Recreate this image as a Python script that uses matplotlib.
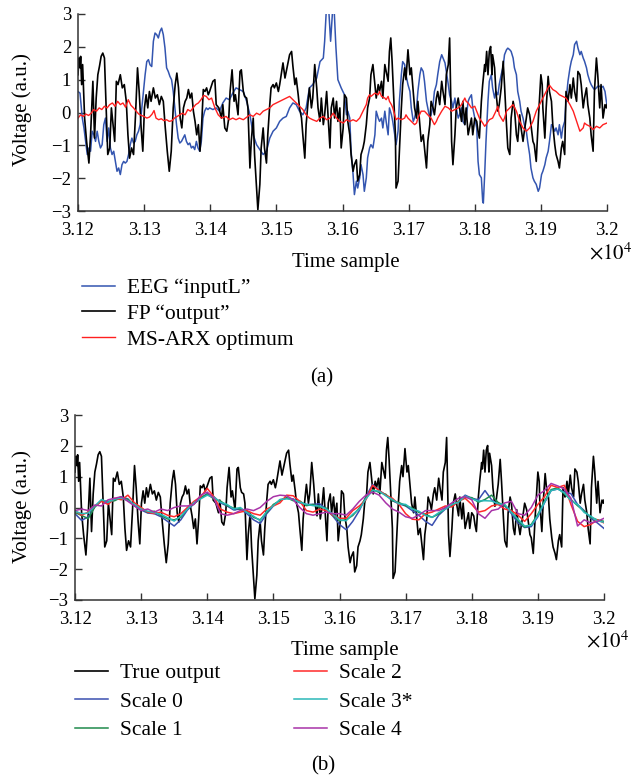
import numpy as np
import matplotlib
matplotlib.use("Agg")
import matplotlib.pyplot as plt
from matplotlib.ticker import FuncFormatter

plt.rcParams["font.family"] = "serif"
plt.rcParams["font.serif"] = ["Liberation Serif", "DejaVu Serif"]
plt.rcParams["mathtext.fontset"] = "stix"

T0 = 31200

# FP "output" / true output (sample offset from 31200, voltage)
fp_t = [0, 1.5, 3, 4, 5.5, 7, 10, 13, 16.5, 19, 22.5, 25, 27.5, 30, 32.5, 35, 37.5, 40, 42.5, 45,
        48, 50.5, 53, 55.5, 58, 60.5, 64, 67, 70, 73, 75.5, 78, 81, 84, 87, 90, 92.5, 95.5, 98, 100.5,
        103, 105.5, 108, 110.5, 114, 117, 120, 123, 126, 129, 132, 135, 138, 141, 144, 147, 149.5, 152,
        154.5, 157, 159.5, 162, 164.5, 167, 169.5, 172, 174.5, 177, 179.5, 182, 184.5, 187, 189.5, 192,
        194.5, 197, 199,
        204, 207, 209, 213, 217, 219, 222, 225, 228, 230, 233, 236, 238, 242, 245, 247, 250, 252, 255,
        257, 260, 262, 265, 267, 270, 272, 275, 277, 280, 282, 285, 287, 290, 292, 295, 297, 300, 303,
        305, 308, 310, 313, 315, 318, 320, 323, 325, 328, 330, 333, 335, 338, 340, 343, 345, 348, 350,
        353, 355, 358, 361, 363, 366, 368, 371, 373, 376, 378, 381, 383, 386, 388, 391, 393, 396, 398,
        401, 403,
        406, 408, 411, 413, 416, 418, 421, 423, 426, 428, 431, 433, 436, 438, 441, 443, 446, 449, 451,
        454, 456, 459, 461, 464, 466, 469, 471, 473, 475, 477, 480, 481, 484, 486, 489, 491, 494, 496,
        499, 502, 504, 507, 509, 512, 514, 517, 519, 522, 524, 527, 529, 532, 534, 537, 539, 542, 544,
        547, 550, 552, 555, 557, 560, 562, 565, 567, 570, 572, 575, 577, 580, 582, 585, 587, 590, 592,
        595, 597, 600, 603,
        605, 607, 610, 612, 615, 616, 618, 620, 622, 624, 626, 627, 630, 632, 635, 637, 640, 643, 645,
        648, 650, 653, 655, 658, 660, 663, 665, 668, 670, 673, 675, 678, 680, 683, 685, 688, 690, 693,
        696, 698, 700, 702, 703, 706, 708, 711, 713, 716, 718, 721, 723, 726, 728, 731, 733, 736, 738,
        741, 744, 746, 749, 751, 754, 756, 759, 761, 764, 766, 769, 771, 774, 776, 779, 781, 784, 786,
        789, 791, 794, 797, 799, 800]
fp_v = [1.15, 1.66, 1.36, 1.71, 0.85, 1.46, -0.17, -0.88, -1.54, -0.68, 0.95, -0.78, 0.44, 1.15, 1.41,
        1.71, 1.81, 1.66, 0.14, -1.28, -1.08, 0.14, -0.37, -0.88, 0.95, 0.85, 1.15, 0.75, 0.85, 0.34,
        -0.68, -1.39, -1.08, -1.28, -0.07, 1.36, 0.64, -0.47, -1.18, 0.14, 0.54, 0.14, 0.64, 0.34, 0.75,
        0.44, 0.54, 0.24, 0.49, 0.34, -0.47, -1.18, -1.79, -1.18, 0.14, 0.85, 1.20, 0.75, -0.17, -0.47,
        0.14, 0.34, 0.44, 0.70, 0.44, 0.59, 0.04, -0.27, -0.68, -0.37, -1.18, -0.37, 0.70, 0.64, 0.75,
        0.54, 0.64,
        0.95, 1.00, 0.24, 0.14, -0.17, 0.24, -0.47, -0.57, -0.17, 0.64, 1.30, 0.34, 0.54, -0.07, 1.25,
        1.30, 0.64, 0.49, 0.44, 0.14, -1.69, -0.88, -0.17, -1.28, -2.29, -2.96, -2.19, -1.08, -0.47,
        -1.08, -1.54, -0.68, 0.24, 0.75, 0.85, 0.75, 0.90, 0.64, 0.85, 1.25, 1.51, 1.05, 1.25, 1.55,
        1.76, 1.86, 1.41, 0.85, 1.05, 0.54, 0.14, -0.17, -0.68, -1.39, -0.37, 0.34, 0.75, 0.14, 0.44,
        1.46, 0.75, 0.14, -0.27, 0.44, -0.37, -0.07, 0.64, -0.07, -1.08, 0.14, 0.44, -0.17, 0.34, -0.27,
        0.14, -1.08, -0.47, 0.54,
        0.44, -0.27, -0.68, -1.28, -1.79, -1.59, -1.44, -2.09, -1.89, -1.28, -1.08, -0.88, -0.37, 0.14,
        0.44, 1.15, 1.46, 0.85, 0.44, 0.85, 0.64, 0.95, 0.44, 1.46, 1.25, 0.95, 1.86, 2.27, 1.56, 0.64,
        -0.68, -2.30, -2.09, -1.18, 0.14, 0.85, 1.36, 1.00, 1.91, 1.15, 1.36, 0.64, 0.14, -0.17, 0.34,
        -0.37, -0.88, -0.68, -1.08, -1.69, -0.88, -0.37, 0.34, 0.14, -0.07, 0.44, 0.64, 0.24, 0.95,
        0.64, 0.24, 1.15, 1.46, 2.27, -0.88, -1.59, -0.68, 0.14, 0.44, 0.14, -0.27, 0.34, -0.37, 0.14,
        -0.68, -0.47, -0.17, -0.68, -0.17, -0.27,
        -0.57, -0.78, 0.34, 0.85, 1.46, 1.25, 1.86, 1.15, 1.86, 2.01, 1.15, 1.76, 1.36, 0.64, 0.04,
        0.24, 0.75, 1.56, 0.85, -0.37, -1.08, -1.28, -0.17, 0.34, 0.14, -0.68, -0.88, -0.07, -0.47,
        -0.88, -0.57, -0.17, 0.14, -0.07, -0.37, -0.88, -0.98, -1.49, -0.27, 0.44, 1.15, 0.85, 0.14,
        -0.78, 0.14, 1.10, 0.64, 0.34, -0.37, -0.98, -1.28, -1.49, -1.69, -1.08, -0.88, -1.28, 0.64,
        0.34, 0.85, 0.44, 1.05, 0.64, 0.34, 1.25, 1.15, 0.85, 0.14, 0.44, 0.75, 0.24, -0.17, -0.68,
        -1.18, 0.64, 1.66, 1.15, 0.14, 0.85, -0.17, 0.24, 0.14, 0.24]

# EEG "inputL"
eeg_t = [0, 3, 6.5, 9, 11.5, 14, 16.5, 19, 21.5, 24, 26.5, 29, 31.5, 34, 36.5, 39, 41.5, 44, 46.5, 49,
         51.5, 54, 56.5, 59, 61.5, 64, 66.5, 69, 71.5, 74, 76.5, 79, 81.5, 84, 86.5, 89, 91.5, 94, 96.5,
         99, 101.5, 104, 106.5, 109, 111.5, 114, 116.5, 119, 121.5, 124, 126.5, 129, 131.5, 134, 136.5,
         139, 141.5, 144, 146.5, 149, 151.5, 154, 156.5, 159, 161.5, 164, 166.5, 169, 171.5, 174, 176.5,
         179, 181.5, 184, 186.5, 189, 191.5, 194, 196.5, 199,
         204, 209, 214, 219, 224, 229, 234, 239, 244, 250, 255, 260, 265, 270, 275, 280, 285, 290, 295,
         300, 305, 310, 315, 320, 325, 330, 335, 340, 345, 350, 355, 361, 366, 371, 373, 376, 379, 382,
         385, 387, 390, 393, 398, 403,
         406, 408, 411, 413, 416, 418, 421, 423, 426, 428, 431, 433, 436, 438, 441, 443, 446, 449, 451,
         454, 456, 459, 461, 464, 466, 469, 471, 474, 476, 479, 481, 484, 486, 489, 491, 494, 496, 499,
         502, 504, 507, 509, 512, 514, 517, 519, 522, 524, 527, 529, 532, 534, 537, 539, 542, 544, 547,
         550, 552, 555, 557, 560, 562, 565, 567, 570, 572, 575, 577, 580, 582, 585, 587, 590, 592, 595,
         597, 600, 603,
         605, 607, 610, 612, 613, 615, 617, 620, 622, 625, 627, 630, 632, 635, 637, 640, 643, 645, 648,
         650, 653, 655, 658, 660, 663, 665, 668, 670, 673, 675, 678, 680, 683, 685, 688, 690, 693, 696,
         698, 701, 703, 706, 708, 711, 713, 716, 718, 721, 723, 726, 728, 731, 733, 736, 738, 741, 744,
         746, 749, 751, 754, 756, 759, 761, 764, 766, 769, 771, 774, 776, 779, 781, 784, 786, 789, 791,
         794, 797, 799, 800]
eeg_v = [0.64, 0.59, -0.17, -0.47, -0.88, -1.28, -1.08, -1.18, -0.57, -0.68, -0.88, -0.57, -0.88,
         -1.08, -0.98, -0.37, -0.17, -0.88, -0.47, -1.08, -1.28, -1.18, -1.49, -1.79, -1.69, -1.89,
         -1.59, -1.49, -1.54, -1.49, -1.28, -0.98, -0.78, -0.93, -0.88, -0.68, -0.57, -0.37, 0.14, 0.64,
         1.15, 1.55, 1.61, 1.45, 1.40, 2.17, 2.42, 2.37, 2.27, 2.47, 2.57, 2.37, 1.97, 1.36, 1.25, 1.10,
         1.00, 0.64, 0.14, -0.37, -0.78, -0.93, -0.88, -0.78, -0.68, -0.88, -0.98, -0.93, -1.08, -1.03,
         -1.13, -0.88, -1.08, -1.18, -0.88, -0.17, 0.04, 0.14, 0.09, 0.14,
         0.09, 0.14, 0.04, 0.29, 0.44, 0.39, 0.59, 0.75, 0.70, 0.64, 0.34, -0.07, -0.68, -0.98, -1.13,
         -1.28, -1.18, -0.78, -0.57, -0.47, -0.27, -0.17, -0.12, 0.14, 0.29, 0.24, 0.04, -0.07, 0.14,
         0.75, 0.85, 1.05, 1.55, 1.66, 2.17, 3.30, 3.20, 2.17, 3.10, 3.30, 2.00, 1.00, 0.75, 0.54,
         -0.07, 0.04, -0.17, -1.18, -1.89, -2.50, -2.09, -2.30, -1.99, -1.59, -1.89, -2.40, -1.99, -1.38,
         -1.08, -0.98, -1.08, -0.68, 0.04, -0.17, -0.27, -0.17, -0.47, 0.04, -0.27, -0.68, 0.14, -0.07,
         -0.27, -0.68, -0.98, -0.57, 0.34, 1.15, 1.55, 1.46, 1.15, 0.85, 0.64, 0.14, -0.27, -0.17, 0.14,
         0.64, 1.15, 1.36, 1.25, 0.95, 0.34, 0.14, -0.17, -0.07, 0.24, 0.64, 0.85, 1.15, 1.55, 1.76, 1.66,
         1.51, 1.25, 0.85, 0.54, 0.34, 0.14, 0.44, 0.14, -0.17, -0.07, 0.14, -0.27, -0.37, -0.17, 0.34,
         0.44, 0.54, 0.14, -0.17, -0.47,
         -1.49, -1.89, -1.99, -2.70, -2.76, -1.89, -0.88, 0.34, 0.95, 1.15, 0.75, 0.44, 0.64, 0.54, 0.85,
         1.15, 1.41, 1.76, 1.91, 1.96, 1.91, 1.86, 1.66, 1.36, 1.15, 0.64, 0.34, 0.04, -0.17, -0.37,
         -0.57, -0.88, -1.28, -1.69, -1.99, -2.09, -2.19, -2.40, -2.30, -1.89, -1.79, -1.59, -1.38,
         -1.18, -0.88, -0.37, -0.42, -0.57, -0.47, -0.68, -0.37, -0.78, -0.47, -0.27, 0.34, 0.95, 1.36,
         1.56, 1.76, 2.07, 2.17, 1.97, 1.76, 1.86, 1.66, 1.56, 1.36, 1.15, 0.95, 0.85, 0.75, 0.70, 0.75,
         0.80, 0.80, 0.75, 0.80, 0.64, 0.34, 0.24]

# MS-ARX optimum
arx_t = [0, 4, 8, 12, 16, 20, 24, 28, 32, 36, 40, 44, 48, 52, 56, 60, 64, 68, 72, 76, 80, 84, 88, 92,
         96, 100, 104, 108, 112, 115, 118, 122, 126, 130, 134, 138, 142, 146, 150, 154, 158, 162, 166,
         170, 174, 178, 182, 186, 190, 194, 198,
         202, 207, 212, 217, 224, 229, 234, 239, 244, 250, 260, 265, 270, 275, 280, 285, 290, 295, 300,
         305, 310, 315, 320, 325, 330, 335, 340, 345, 350, 355, 361, 366, 371, 376, 381, 386, 391, 396,
         401,
         406, 411, 416, 421, 426, 431, 436, 438, 441, 443, 449, 454, 456, 459, 464, 466, 469, 471, 474,
         476, 479, 481, 484, 489, 494, 496, 499, 504, 509, 512, 514, 519, 524, 529, 534, 539, 542, 544,
         550, 555, 560, 565, 570, 575, 580, 585, 587, 590, 595, 600,
         607, 612, 615, 617, 622, 627, 632, 635, 637, 643, 645, 648, 653, 658, 663, 668, 673, 678, 683,
         688, 693, 698, 703, 708, 713, 716, 718, 723, 728, 733, 738, 744, 749, 754, 759, 764, 766, 769,
         774, 779, 784, 789, 794, 800]
arx_v = [-0.17, -0.07, -0.12, -0.05, -0.09, -0.02, 0.09, 0.04, 0.14, 0.09, 0.19, 0.14, 0.24, 0.29,
         0.19, 0.34, 0.24, 0.29, 0.16, 0.39, 0.22, 0.14, 0.04, -0.05, -0.09, -0.12, -0.17, -0.14, -0.05,
         0.06, -0.17, -0.22, -0.19, -0.25, -0.22, -0.27, -0.25, -0.17, -0.12, -0.07, -0.02, -0.07, 0.09,
         0.04, 0.14, 0.24, 0.29, 0.39, 0.52, 0.49, 0.39,
         0.44, 0.14, -0.07, -0.17, -0.12, -0.22, -0.17, -0.22, -0.17, -0.22, -0.07, -0.12, -0.02, -0.07,
         0.04, 0.09, 0.14, 0.24, 0.29, 0.34, 0.39, 0.44, 0.49, 0.39, 0.29, 0.19, 0.09, -0.07, -0.17,
         -0.22, -0.27, -0.17, -0.12, -0.22, -0.17, -0.02, -0.17, -0.27, -0.32,
         -0.22, -0.27, -0.22, -0.27, -0.17, 0.04, 0.24, 0.44, 0.54, 0.49, 0.59, 0.54, 0.64, 0.49, 0.44,
         0.39, 0.49, 0.34, 0.24, 0.14, -0.07, -0.22, -0.17, -0.22, -0.17, -0.07, -0.17, -0.27, -0.37,
         -0.32, -0.17, 0.04, 0.04, -0.07, -0.17, -0.37, -0.27, -0.17, 0.04, 0.19, 0.14, 0.04, 0.09, 0.14,
         0.24, 0.44, 0.34, 0.29, 0.14, 0.19,
         -0.17, -0.32, -0.42, -0.37, -0.22, -0.17, 0.04, 0.19, -0.07, -0.27, -0.17, 0.04, 0.14, 0.24,
         0.04, -0.27, -0.47, -0.57, -0.47, -0.27, 0.04, 0.24, 0.44, 0.64, 0.83, 0.75, 0.70, 0.64, 0.54,
         0.49, 0.44, 0.24, 0.04, -0.27, -0.57, -0.47, -0.32, -0.37, -0.42, -0.52, -0.42, -0.47, -0.37,
         -0.32]

# multiscale estimates, panel (b), every 10 samples
scale_t = list(range(0, 801, 10))
scale0 = [-0.20, -0.42, -0.30, 0.02, 0.22, 0.15, 0.25, 0.35, 0.28, 0.05,
          -0.08, -0.18, -0.20, -0.30, -0.45, -0.60, -0.40, -0.08, 0.12, 0.30,
          0.45, 0.35, 0.15, 0.05, -0.08, -0.05, -0.20, -0.40, -0.52, -0.20,
          0.05, 0.25, 0.30, 0.28, 0.15, 0.10, 0.10, 0.12, -0.05, -0.28,
          -0.55, -0.72, -0.45, -0.10, 0.35, 0.75, 0.55, 0.40, 0.22, 0.12,
          0.05, -0.10, -0.25, -0.45, -0.58, -0.25, -0.05, 0.05, 0.20, 0.40,
          0.30, 0.25, 0.55, 0.25, 0.10, 0.05, -0.20, -0.50, -0.65, -0.62,
          -0.30, 0.15, 0.55, 0.60, 0.50, 0.45, 0.10, -0.10, -0.35, -0.50,
          -0.68]
scale1 = [-0.16, -0.26, -0.36, 0.02, 0.22, 0.20, 0.22, 0.33, 0.26, 0.06,
          -0.02, -0.16, -0.12, -0.26, -0.37, -0.40, -0.32, -0.02, 0.12, 0.32,
          0.43, 0.28, 0.21, 0.06, -0.02, -0.05, -0.12, -0.32, -0.40, -0.16,
          0.10, 0.22, 0.32, 0.22, 0.21, 0.06, 0.10, 0.01, -0.02, -0.26,
          -0.43, -0.40, -0.26, -0.02, 0.32, 0.58, 0.49, 0.43, 0.22, 0.16,
          0.06, -0.02, -0.16, -0.22, -0.32, -0.21, -0.02, 0.06, 0.21, 0.33,
          0.32, 0.17, 0.26, 0.40, 0.16, 0.06, -0.12, -0.43, -0.64, -0.55,
          -0.22, 0.21, 0.58, 0.64, 0.44, 0.26, 0.06, -0.12, -0.32, -0.40,
          -0.45]
scale2 = [-0.10, -0.25, -0.15, 0.05, 0.20, 0.10, 0.30, 0.25, 0.40, 0.15,
          0.00, -0.15, -0.20, -0.15, -0.25, -0.30, -0.20, 0.00, 0.20, 0.35,
          0.62, 0.35, -0.05, -0.15, -0.20, -0.15, -0.10, -0.20, -0.25, -0.05,
          0.05, 0.15, 0.40, 0.38, 0.20, -0.10, -0.15, -0.05, -0.10, -0.25,
          -0.35, -0.35, -0.10, 0.05, 0.25, 0.72, 0.55, 0.40, 0.30, 0.10,
          -0.20, -0.38, -0.40, -0.20, -0.15, -0.05, 0.05, 0.02, 0.20, 0.30,
          0.10, -0.15, -0.10, 0.05, 0.10, -0.05, -0.10, -0.25, -0.45, -0.20,
          0.10, 0.35, 0.72, 0.65, 0.72, 0.10, -0.45, -0.62, -0.55, -0.40,
          -0.50]
scale3 = [-0.12, -0.20, -0.18, 0.05, 0.26, 0.17, 0.27, 0.31, 0.22, 0.10,
          -0.05, -0.12, -0.17, -0.22, -0.33, -0.44, -0.28, -0.05, 0.16, 0.28,
          0.40, 0.33, 0.17, 0.10, -0.05, 0.00, -0.16, -0.28, -0.43, -0.12,
          0.06, 0.26, 0.28, 0.26, 0.17, 0.10, 0.06, 0.05, -0.05, -0.22,
          -0.40, -0.43, -0.22, -0.05, 0.28, 0.55, 0.53, 0.38, 0.26, 0.12,
          0.10, -0.05, -0.12, -0.26, -0.32, -0.17, -0.05, 0.10, 0.17, 0.37,
          0.28, 0.21, 0.22, 0.21, 0.12, 0.10, -0.16, -0.38, -0.60, -0.58,
          -0.26, 0.17, 0.55, 0.60, 0.48, 0.22, 0.10, -0.16, -0.28, -0.43,
          -0.48]
scale4 = [-0.10, -0.05, -0.10, 0.08, 0.05, 0.25, 0.30, 0.35, 0.20, 0.05,
          -0.10, -0.05, -0.15, -0.05, -0.10, 0.00, 0.05, 0.05, 0.10, 0.40,
          0.50, 0.30, -0.20, -0.25, -0.20, -0.10, -0.05, -0.10, 0.00, 0.20,
          0.35, 0.40, 0.38, 0.25, 0.00, -0.20, -0.25, -0.20, -0.15, -0.20,
          -0.20, -0.25, -0.05, 0.20, 0.40, 0.50, 0.40, 0.15, -0.05, -0.15,
          -0.30, -0.35, -0.25, -0.10, -0.10, -0.10, 0.00, 0.15, 0.30, 0.35,
          0.25, -0.20, -0.35, -0.10, -0.05, 0.15, 0.20, -0.20, -0.25, 0.00,
          0.40, 0.55, 0.78, 0.70, 0.60, 0.30, -0.60, -0.40, -0.50, -0.45,
          -0.35]

scale_names = ["Scale 0", "Scale 1", "Scale 2", "Scale 3*", "Scale 4"]
scale_colors = ["#3a4fb0", "#1f8a4c", "#ff2a2a", "#2bb8b8", "#a833a8"]

W, H = 643, 778
fig = plt.figure(figsize=(W / 100, H / 100), dpi=100)

def px(x0, y_top, x1, y_bot):
    return [x0 / W, 1 - y_bot / H, (x1 - x0) / W, (y_bot - y_top) / H]

def style(ax):
    for s in ("top", "right"):
        ax.spines[s].set_visible(False)
    for s in ("left", "bottom"):
        ax.spines[s].set_color("#333333")
        ax.spines[s].set_linewidth(1.1)
    ax.set_xlim(31200, 32000)
    ax.set_ylim(-3, 3)
    ax.set_xticks(np.arange(31200, 32001, 100))
    ax.set_yticks(range(-3, 4))
    ax.xaxis.set_major_formatter(FuncFormatter(lambda v, p: f"{v / 1e4:g}"))
    ax.tick_params(direction="in", length=5, width=1, color="#333333", labelsize=13.5)
    ax.tick_params(axis="x", pad=8)
    ax.tick_params(axis="y", pad=5)

fp_x = [T0 + t for t in fp_t]
leg_kw = dict(loc="upper left", frameon=False, fontsize=15.5, handlelength=1.55,
              handletextpad=0.55, borderpad=0, borderaxespad=0)

# panel (a)
ax1 = fig.add_axes(px(78, 14, 607, 211))
h_eeg, = ax1.plot([T0 + t for t in eeg_t], eeg_v, color="#3355b0", lw=1.1)
h_fp, = ax1.plot(fp_x, fp_v, color="black", lw=1.2)
h_arx, = ax1.plot([T0 + t for t in arx_t], arx_v, color="#ff2020", lw=1.0)
style(ax1)

fig.text(22 / W, 1 - 110 / H, "Voltage (a.u.)", rotation=90, ha="center", va="center", fontsize=15)
fig.text(346 / W, 1 - 263 / H, "Time sample", ha="center", va="center", fontsize=15)
fig.text(611 / W, 1 - 254 / H, r"$\times10^{4}$", ha="center", va="center", fontsize=15)
fig.legend([h_eeg, h_fp, h_arx], ["EEG \u201cinputL\u201d", "FP \u201coutput\u201d", "MS-ARX optimum"],
           bbox_to_anchor=(82 / W, 1 - 278 / H), labelspacing=0.27, **leg_kw)
fig.text(322 / W, 1 - 378 / H, "(a)", ha="center", va="center", fontsize=15)

# panel (b)
ax2 = fig.add_axes(px(75, 415, 604, 600))
handles = []
h_true, = ax2.plot(fp_x, fp_v, color="black", lw=1.2)
for vals, name, col in zip([scale0, scale1, scale2, scale3, scale4], scale_names, scale_colors):
    h, = ax2.plot([T0 + t for t in scale_t], vals, color=col, lw=1.1)
    handles.append(h)
style(ax2)

fig.text(22 / W, 1 - 507 / H, "Voltage (a.u.)", rotation=90, ha="center", va="center", fontsize=15)
fig.text(345 / W, 1 - 651 / H, "Time sample", ha="center", va="center", fontsize=15)
fig.text(608 / W, 1 - 642 / H, r"$\times10^{4}$", ha="center", va="center", fontsize=15)
fig.legend([h_true] + handles, ["True output"] + scale_names, ncol=2,
           bbox_to_anchor=(75 / W, 1 - 663 / H), labelspacing=0.4, columnspacing=3.4, **leg_kw)
fig.text(323 / W, 1 - 766 / H, "(b)", ha="center", va="center", fontsize=15)

fig.savefig("out.png", dpi=100)
